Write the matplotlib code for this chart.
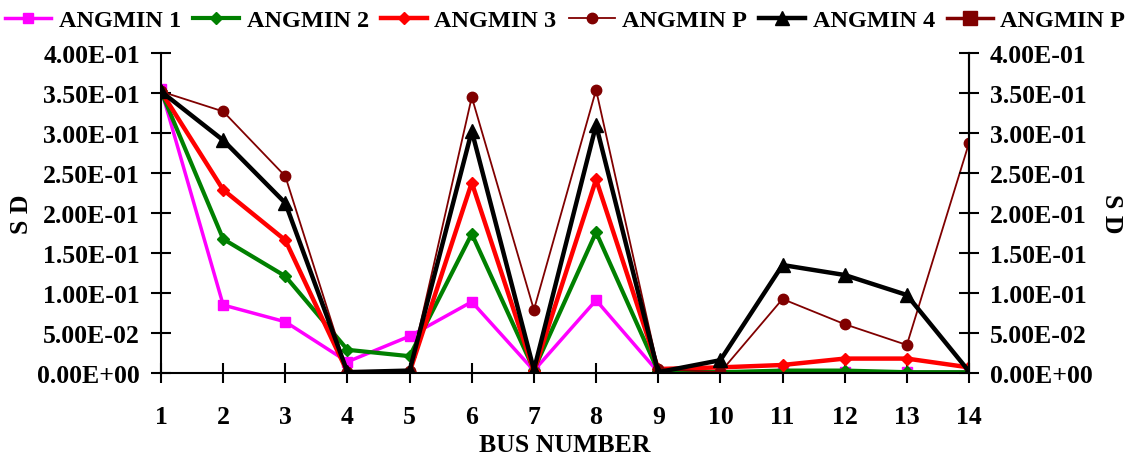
import numpy as np
import matplotlib.pyplot as plt

plt.rcParams['font.family'] = ['Liberation Serif', 'DejaVu Serif']
plt.rcParams['font.weight'] = 'bold'

bus = list(range(1, 15))

angmin1 = [0.355, 0.085, 0.064, 0.014, 0.046, 0.089, 0.003, 0.091, 0.001, 0.001, 0.001, 0.001, 0.001, 0.001]
angmin2 = [0.352, 0.1675, 0.121, 0.029, 0.021, 0.174, 0.004, 0.176, 0.002, 0.001, 0.003, 0.003, 0.001, 0.001]
angmin3 = [0.352, 0.229, 0.166, 0.001, 0.001, 0.238, 0.002, 0.242, 0.005, 0.007, 0.010, 0.018, 0.018, 0.007]
angminp = [0.352, 0.327, 0.246, 0.001, 0.002, 0.345, 0.079, 0.354, 0.005, 0.001, 0.0925, 0.061, 0.035, 0.2875]
angmin4 = [0.352, 0.291, 0.2125, 0.001, 0.003, 0.3025, 0.004, 0.310, 0.001, 0.016, 0.135, 0.1225, 0.0975, 0.002]
angminp2 = []  # legend entry only, no visible points

yticks = np.arange(0, 0.401, 0.05)
ylabels = ['%.2E' % v for v in yticks]

fs = 18.5

fig = plt.figure(figsize=(11.42, 4.64), dpi=100)
ax = fig.add_axes([0.141, 0.194, 0.7075, 0.6895])

ax.plot(bus, angmin1, color='#ff00ff', lw=2.5, marker='s', ms=7.5, label='ANGMIN 1')
ax.plot(bus, angmin2, color='#008000', lw=3, marker='D', ms=6.5, label='ANGMIN 2')
ax.plot(bus, angmin3, color='#ff0000', lw=3.2, marker='D', ms=6.5, label='ANGMIN 3')
ax.plot(bus, angminp, color='#800000', lw=1.3, marker='o', ms=7.5, label='ANGMIN P')
ax.plot(bus, angmin4, color='black', lw=3.2, marker='^', ms=9.5, label='ANGMIN 4')
ax.plot(angminp2, angminp2, color='#800000', lw=2.5, marker='s', ms=10, label='ANGMIN P')

ax.set_xlim(1, 14)
ax.set_ylim(0, 0.4)
ax.set_xticks(bus)
ax.set_yticks(yticks)
ax.set_yticklabels(ylabels)
ax.spines['top'].set_visible(False)
for s in ax.spines.values():
    s.set_linewidth(1.5)
ax.tick_params(axis='both', direction='inout', length=14, width=1.5, labelsize=fs)
ax.tick_params(axis='x', pad=16)
ax.tick_params(axis='y', pad=8)
ax.set_xlabel('BUS NUMBER', fontsize=fs, fontweight='bold', labelpad=4)
ax.set_ylabel('S D', fontsize=fs, fontweight='bold', labelpad=3)

ax2 = ax.twinx()
ax2.set_ylim(0, 0.4)
ax2.set_yticks(yticks)
ax2.set_yticklabels(ylabels)
ax2.spines['top'].set_visible(False)
ax2.spines['left'].set_visible(False)
ax2.spines['bottom'].set_visible(False)
ax2.spines['right'].set_linewidth(1.5)
ax2.tick_params(axis='y', direction='inout', length=14, width=1.5, labelsize=fs, pad=8)
ax2.set_ylabel('S D', fontsize=fs, fontweight='bold', rotation=270, labelpad=22)

handles, labels = ax.get_legend_handles_labels()
fig.legend(handles, labels, loc='upper center', bbox_to_anchor=(0.495, 1.025), ncol=6,
           frameon=False, fontsize=17.5, handlelength=1.9, columnspacing=0.5, handletextpad=0.3)

fig.savefig('out.png', dpi=100)
